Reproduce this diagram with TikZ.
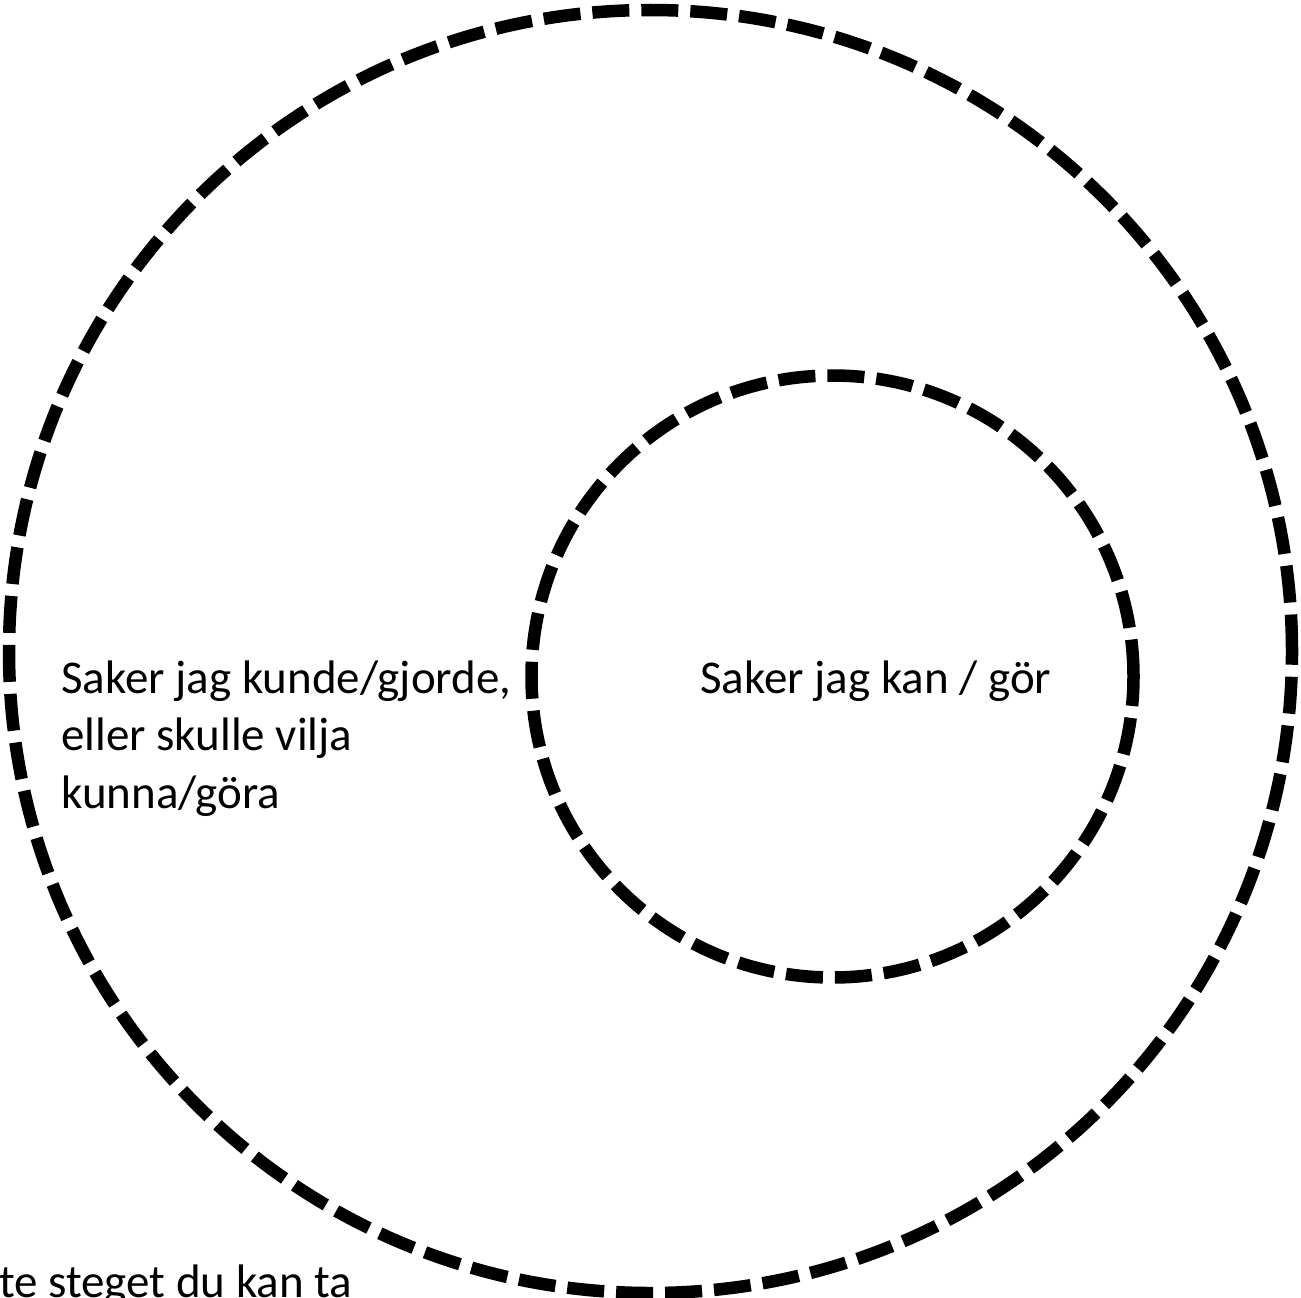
\documentclass[tikz,border=0pt]{standalone}
\usepackage{fontspec}
\setmainfont{Carlito}
\begin{document}
\begin{tikzpicture}[x=1pt,y=-1pt,
  ring/.style={circle, draw=black, line width=12.5pt, dash pattern=on 37pt off 12pt, inner sep=0pt},
  label/.style={font=\fontsize{47}{57.5}\selectfont, inner sep=0pt, align=left, anchor=base west}]
\useasboundingbox (0,0) rectangle (1301,1298);
\clip (0,0) rectangle (1301,1298);
\fill[white] (0,0) rectangle (1301,1298);
\node[ring, minimum size=1283pt] (outer) at (650.5,651.5) {};
\node[ring, minimum size=602pt] (inner) at (832.5,676.5) {};
\node[label] (past) at (61,808) {Saker jag kunde/gjorde,\\eller skulle vilja\\kunna/göra};
\node[label] (now) at (700,693) {Saker jag kan / gör};
\node[label] (step) at (-1,1297) {te steget du kan ta};
\end{tikzpicture}
\end{document}
